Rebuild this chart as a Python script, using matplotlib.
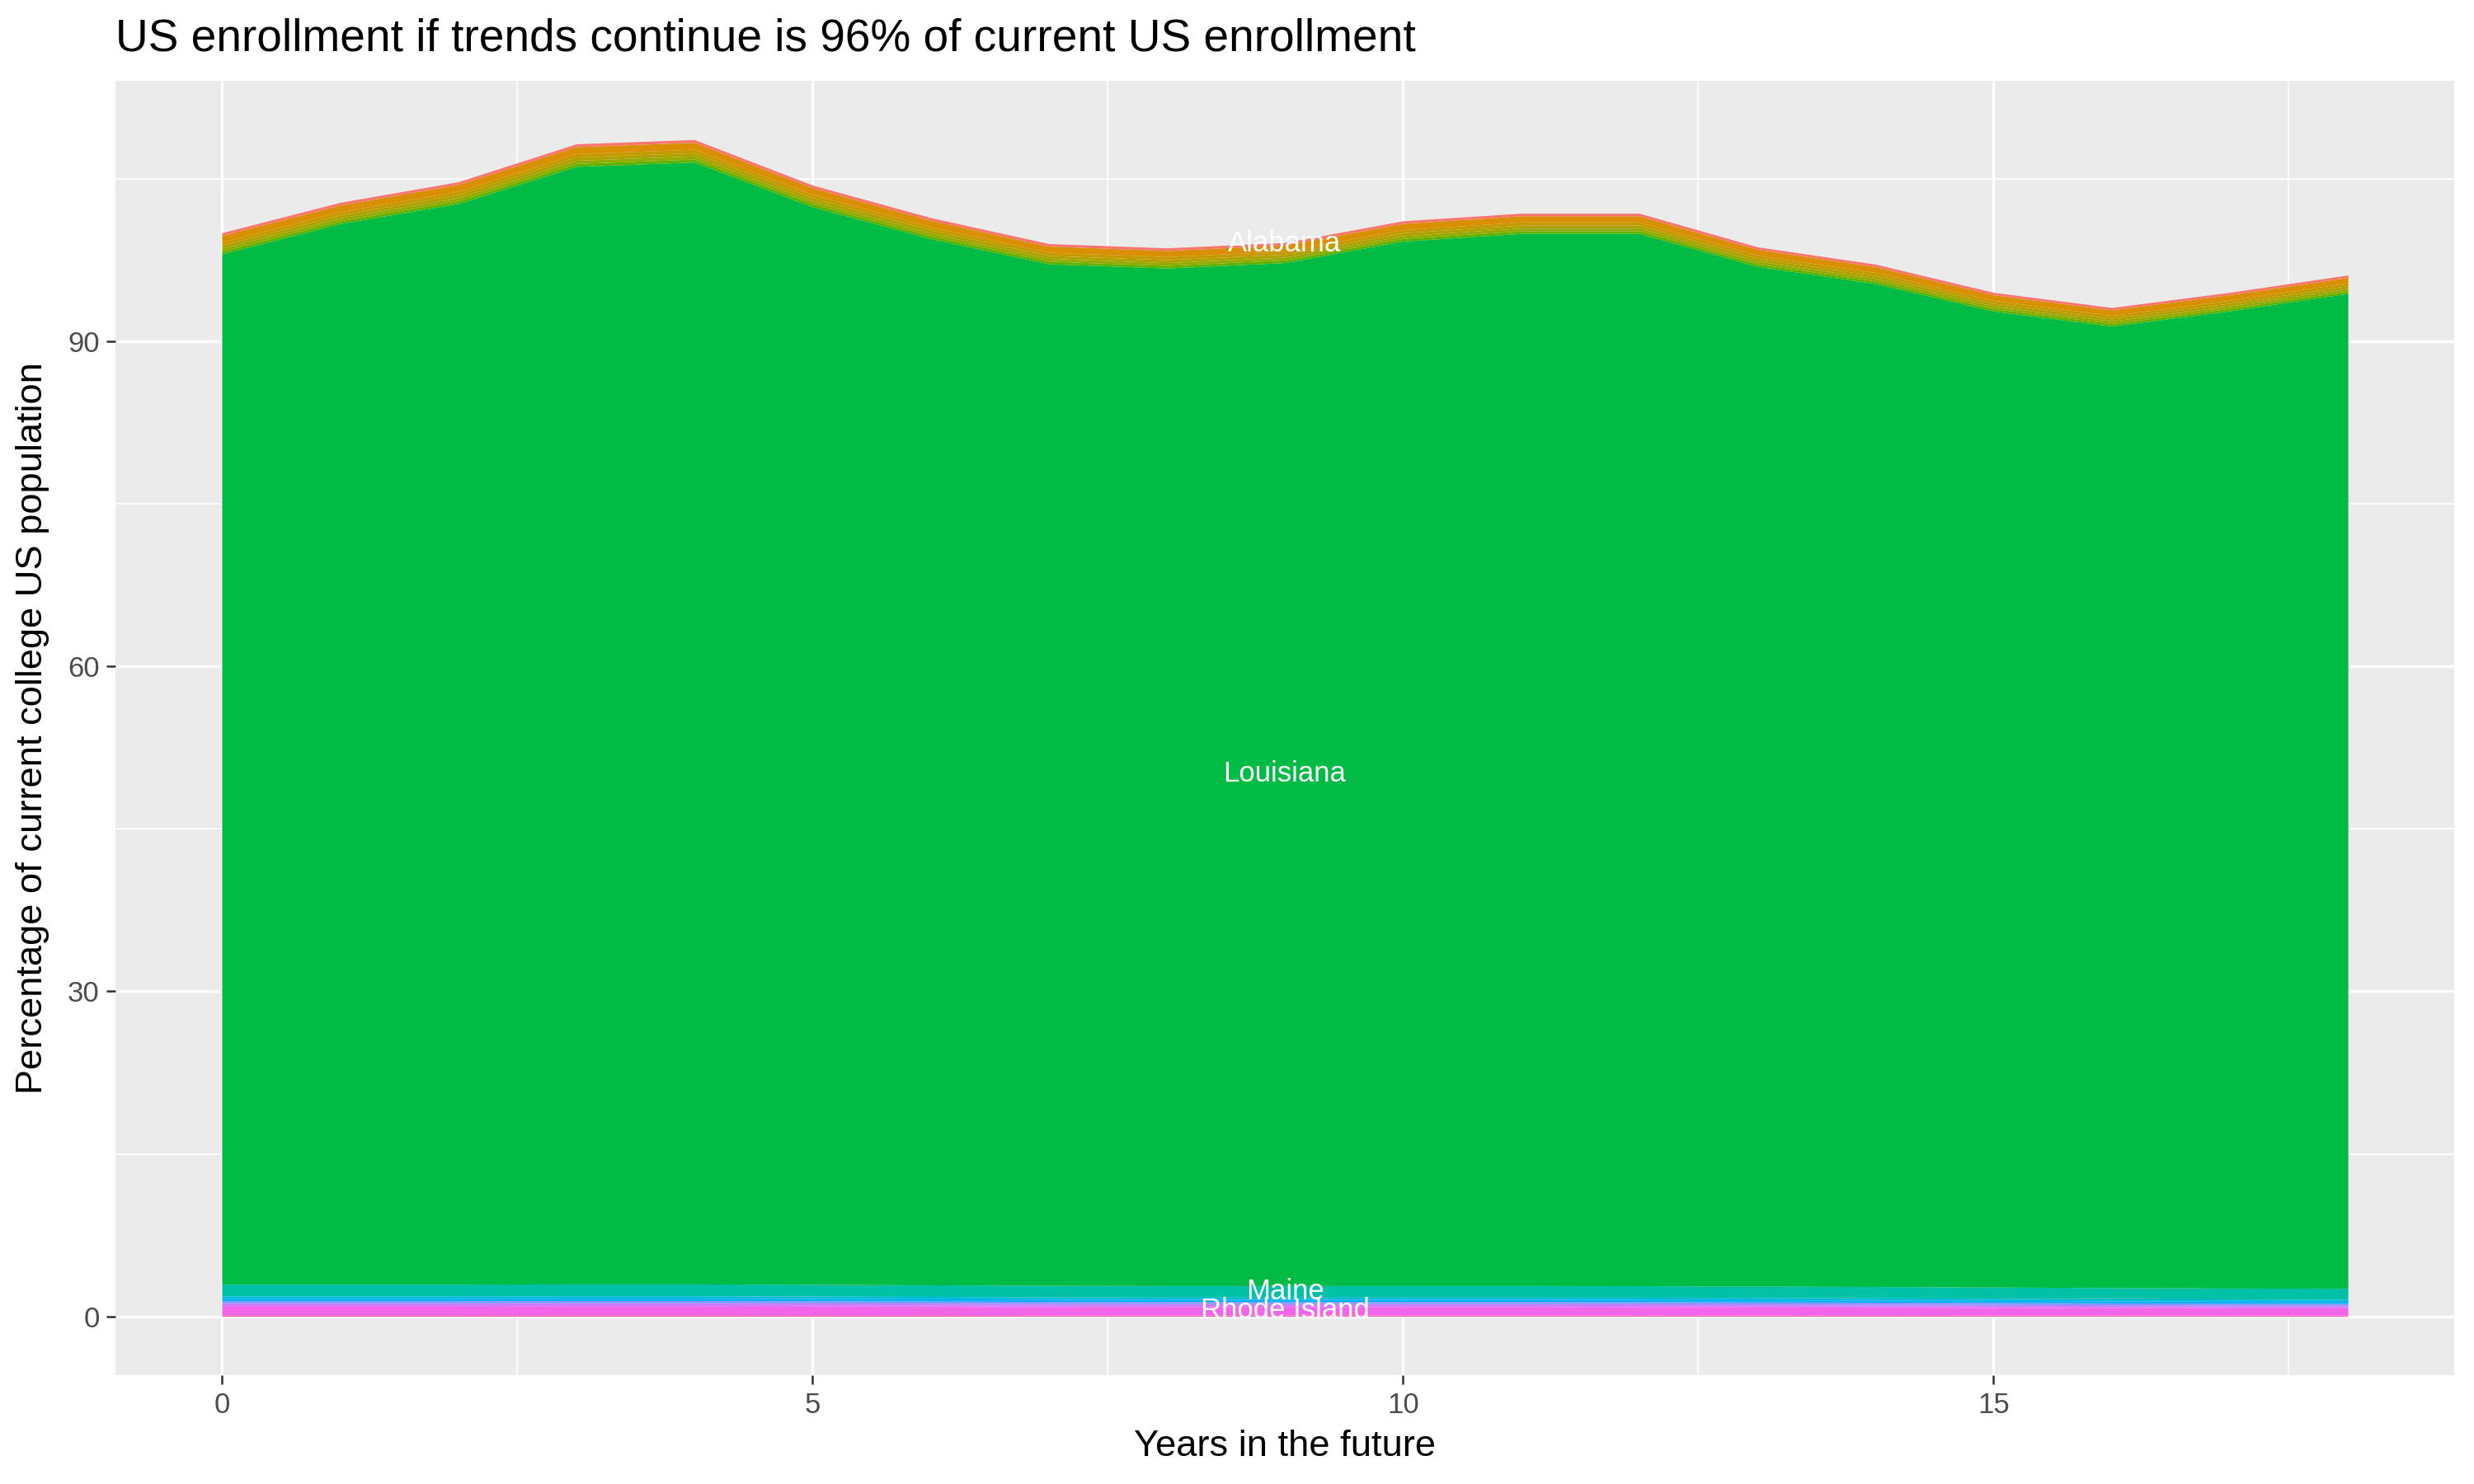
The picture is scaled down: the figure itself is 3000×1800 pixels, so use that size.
import numpy as np
import matplotlib
matplotlib.use("Agg")
import matplotlib.pyplot as plt
from matplotlib.ticker import MultipleLocator

plt.rcParams['font.family'] = ['Liberation Sans', 'DejaVu Sans']

years = list(range(19))

# states in factor order (first one ends up on top of the stack)
states = ['Alabama', 'Arizona', 'California', 'Florida', 'Georgia', 'Illinois',
          'Louisiana', 'Maine', 'Michigan', 'Missouri', 'New York',
          'North Carolina', 'Ohio', 'Rhode Island', 'Texas']
hues = [15, 50, 65, 80, 95, 115, 138, 178, 210, 228, 262, 282, 298, 312, 345]
labelled = ['Alabama', 'Louisiana', 'Maine', 'Rhode Island']

alabama = [0.25, 0.25, 0.25, 0.26, 0.26, 0.25, 0.25, 0.24, 0.24, 0.24, 0.24, 0.24, 0.24, 0.23, 0.23, 0.23, 0.22, 0.22, 0.22]
arizona = [0.60, 0.61, 0.62, 0.64, 0.64, 0.61, 0.59, 0.57, 0.56, 0.56, 0.57, 0.57, 0.57, 0.55, 0.54, 0.52, 0.51, 0.51, 0.50]
california = [0.30, 0.30, 0.31, 0.32, 0.32, 0.31, 0.30, 0.29, 0.29, 0.29, 0.29, 0.29, 0.29, 0.28, 0.28, 0.27, 0.27, 0.27, 0.27]
florida = [0.28, 0.28, 0.29, 0.30, 0.30, 0.29, 0.28, 0.27, 0.27, 0.27, 0.27, 0.27, 0.27, 0.26, 0.26, 0.25, 0.25, 0.25, 0.25]
georgia = [0.27, 0.27, 0.28, 0.29, 0.29, 0.28, 0.27, 0.26, 0.26, 0.26, 0.26, 0.26, 0.26, 0.25, 0.25, 0.24, 0.24, 0.24, 0.24]
illinois = [0.25, 0.25, 0.26, 0.27, 0.27, 0.26, 0.25, 0.24, 0.24, 0.24, 0.24, 0.24, 0.24, 0.23, 0.23, 0.22, 0.22, 0.22, 0.22]
louisiana = [95.08, 97.87, 99.72, 103.13, 103.53, 99.45, 96.55, 94.27, 93.90, 94.40,
             96.39, 97.09, 97.10, 94.11, 92.56, 90.07, 88.74, 90.18, 91.81]
maine = [1.08, 1.08, 1.08, 1.09, 1.09, 1.08, 1.07, 1.06, 1.06, 1.06, 1.06, 1.06, 1.06, 1.05, 1.04, 1.03, 1.02, 1.01, 1.00]
michigan = [0.22, 0.22, 0.22, 0.22, 0.22, 0.22, 0.22, 0.21, 0.21, 0.21, 0.21, 0.21, 0.21, 0.21, 0.21, 0.20, 0.20, 0.20, 0.20]
missouri = [0.22, 0.22, 0.22, 0.22, 0.22, 0.21, 0.21, 0.21, 0.20, 0.20, 0.20, 0.20, 0.20, 0.20, 0.19, 0.19, 0.19, 0.18, 0.18]
new_york = [0.20, 0.20, 0.20, 0.20, 0.20, 0.20, 0.19, 0.19, 0.19, 0.19, 0.19, 0.19, 0.19, 0.18, 0.18, 0.18, 0.17, 0.17, 0.17]
north_carolina = [0.18, 0.18, 0.18, 0.18, 0.18, 0.18, 0.17, 0.17, 0.17, 0.17, 0.17, 0.17, 0.17, 0.16, 0.16, 0.16, 0.15, 0.15, 0.15]
ohio = [0.14, 0.14, 0.14, 0.14, 0.14, 0.14, 0.14, 0.13, 0.13, 0.13, 0.13, 0.13, 0.13, 0.13, 0.13, 0.12, 0.12, 0.12, 0.12]
rhode_island = [0.78, 0.78, 0.78, 0.79, 0.79, 0.77, 0.76, 0.75, 0.74, 0.74, 0.74, 0.74, 0.73, 0.72, 0.71, 0.69, 0.67, 0.66, 0.65]
texas = [0.15, 0.15, 0.15, 0.15, 0.15, 0.15, 0.15, 0.14, 0.14, 0.14, 0.14, 0.14, 0.14, 0.14, 0.13, 0.13, 0.13, 0.12, 0.12]

series = [alabama, arizona, california, florida, georgia, illinois, louisiana,
          maine, michigan, missouri, new_york, north_carolina, ohio,
          rhode_island, texas]


def hcl(h, c=100, l=65):
    # polar LUV -> sRGB, same as R's hcl() used by ggplot's hue palette
    h = np.deg2rad(h)
    u, v = c * np.cos(h), c * np.sin(h)
    Y = ((l + 16) / 116) ** 3
    xn, yn, zn = 0.95047, 1.0, 1.08883
    den = xn + 15 * yn + 3 * zn
    up = u / (13 * l) + 4 * xn / den
    vp = v / (13 * l) + 9 * yn / den
    X = 9 * Y * up / (4 * vp)
    Z = Y * (12 - 3 * up - 20 * vp) / (4 * vp)
    m = np.array([[3.240479, -1.537150, -0.498535],
                  [-0.969256, 1.875992, 0.041556],
                  [0.055648, -0.204043, 1.057311]])
    rgb = m @ np.array([X, Y, Z])
    rgb = np.where(rgb <= 0.0031308, 12.92 * rgb, 1.055 * np.abs(rgb) ** (1 / 2.4) - 0.055)
    return tuple(np.clip(rgb, 0, 1))


fig = plt.figure(figsize=(15, 9), dpi=200)
ax = fig.add_axes([0.0467, 0.0733, 0.9453, 0.8723])
ax.set_facecolor('#EBEBEB')

# stack from the bottom: last level at the bottom
x = np.array(years)
base = np.zeros(len(years))
mids = {}
for name, vals, h in reversed(list(zip(states, series, hues))):
    top = base + np.array(vals)
    ax.fill_between(x, base, top, color=hcl(h), linewidth=0, zorder=2)
    mids[name] = (base[9] + top[9]) / 2
    base = top

for name in labelled:
    ax.text(9, mids[name], name, color='white', fontsize=12.5,
            ha='center', va='center', zorder=3)

ax.set_xlim(-0.9, 18.9)
ax.set_ylim(-5.43, 114.03)
ax.xaxis.set_major_locator(MultipleLocator(5))
ax.xaxis.set_minor_locator(MultipleLocator(2.5))
ax.yaxis.set_major_locator(MultipleLocator(30))
ax.yaxis.set_minor_locator(MultipleLocator(15))
ax.grid(which='major', color='white', linewidth=1.2, zorder=1)
ax.grid(which='minor', color='white', linewidth=0.6, zorder=1)
ax.set_axisbelow(True)
for s in ax.spines.values():
    s.set_visible(False)
ax.tick_params(which='major', length=4, width=0.9, color='#333333',
               labelcolor='#4D4D4D', labelsize=12.5, pad=3)
ax.tick_params(which='minor', length=0)

ax.set_xlabel('Years in the future', fontsize=16.3, labelpad=5)
ax.set_ylabel('Percentage of current college US population', fontsize=16.3, labelpad=8)
ax.set_title('US enrollment if trends continue is 96% of current US enrollment',
             fontsize=19.8, loc='left', pad=13)

fig.savefig('out.png', dpi=200)
